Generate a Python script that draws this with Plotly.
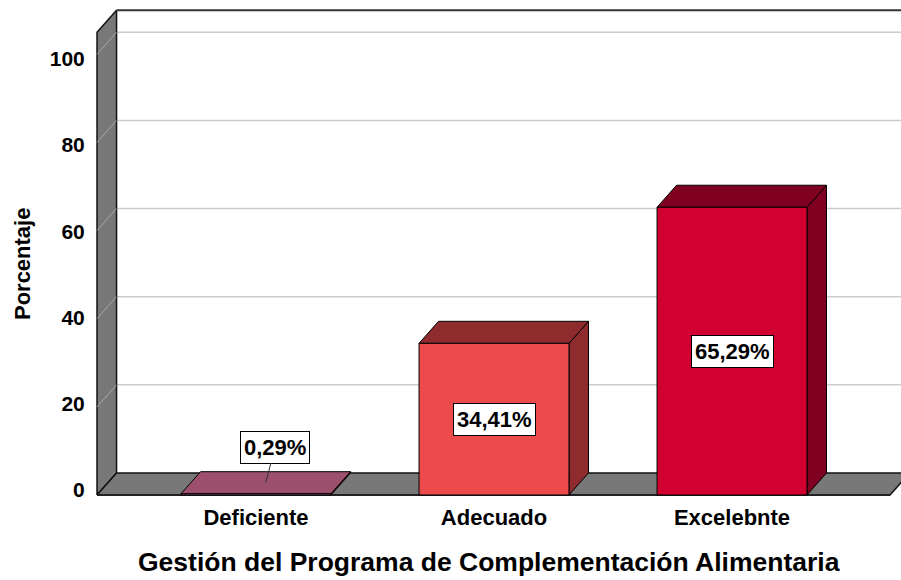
import plotly.graph_objects as go

# ---- data ----
categories = ["Deficiente", "Adecuado", "Excelebnte"]
percentages = [0.29, 34.41, 65.29]
value_labels = ["0,29%", "34,41%", "65,29%"]
y_tick_values = [0, 20, 40, 60, 80, 100]
y_tick_labels = ["0", "20", "40", "60", "80", "100"]
x_title = "Gestión del Programa de Complementación Alimentaria"
y_title = "Porcentaje"

# ---- styles ----
front_colors = ["#B45A7D", "#EC4B4C", "#D20031"]
top_colors = ["#9D4F6E", "#8E2B2D", "#7F0020"]
side_colors = ["#7C3A55", "#8E2B2D", "#7F0020"]
WALL_COLOR = "#787878"
FONT = "Liberation Sans, Arial, sans-serif"

BAR_W = 0.63
DX = 0.082      # depth offset (category units)
DY = 5.0        # depth offset (value units)
X_LEFT = -0.668
X_FLOOR_RIGHT = 2.664
X_MAX = 2.75
WALL_TOP = 105

fig = go.Figure()


def poly(xs, ys, fill, line_color="black", width=1):
    fig.add_trace(go.Scatter(
        x=list(xs) + [xs[0]], y=list(ys) + [ys[0]], mode="lines",
        fill="toself", fillcolor=fill,
        line=dict(color=line_color, width=width),
        hoverinfo="skip", showlegend=False))


def seg(xs, ys, color, width):
    fig.add_trace(go.Scatter(
        x=xs, y=ys, mode="lines", line=dict(color=color, width=width),
        hoverinfo="skip", showlegend=False))


# back-wall gridlines
for v in y_tick_values[1:]:
    seg([X_LEFT + DX, X_MAX], [v + DY, v + DY], "#cccccc", 1.5)

# left wall
poly([X_LEFT, X_LEFT, X_LEFT + DX, X_LEFT + DX],
     [0, WALL_TOP, WALL_TOP + DY, DY], WALL_COLOR, "#111111", 1.5)
# gridlines on left wall
for v in y_tick_values[1:]:
    seg([X_LEFT, X_LEFT + DX], [v, v + DY], "#a8a8a8", 1)
# back wall top edge
seg([X_LEFT + DX, X_MAX], [WALL_TOP + DY, WALL_TOP + DY], "#333333", 2)

# floor
poly([X_LEFT, X_FLOOR_RIGHT, X_FLOOR_RIGHT + DX, X_LEFT + DX],
     [0, 0, DY, DY], WALL_COLOR, "#111111", 1.5)
seg([X_LEFT, X_FLOOR_RIGHT], [0, 0], "#222222", 2)

# bars
for i, v in enumerate(percentages):
    x0, x1 = i - BAR_W / 2, i + BAR_W / 2
    # side face
    poly([x1, x1 + DX, x1 + DX, x1], [0, DY, v + DY, v], side_colors[i])
    # top face
    poly([x0, x1, x1 + DX, x0 + DX], [v, v, v + DY, v + DY], top_colors[i])
    # front face
    poly([x0, x1, x1, x0], [0, 0, v, v], front_colors[i])

# invisible trace for the secondary (label) y-axis
fig.add_trace(go.Scatter(x=[0], y=[0], yaxis="y2", mode="markers",
                         marker=dict(opacity=0), hoverinfo="skip",
                         showlegend=False))

# value labels
for i, (v, lab) in enumerate(zip(percentages, value_labels)):
    common = dict(text=lab, bgcolor="white", bordercolor="black",
                  borderwidth=1, borderpad=3,
                  font=dict(family=FONT, size=22, color="black",
                            weight="bold"))
    if v < 10:
        fig.add_annotation(x=i + DX / 2, y=v + DY / 2, xref="x", yref="y",
                           ax=i + 0.08, ay=v + 10.6, axref="x", ayref="y",
                           showarrow=True, arrowhead=0, arrowwidth=1,
                           arrowcolor="#333333", standoff=0, **common)
    else:
        fig.add_annotation(x=i, y=v / 2, xref="x", yref="y",
                           showarrow=False, **common)

# axis titles (as paper annotations to match their placement)
fig.add_annotation(text=x_title, xref="paper", yref="paper",
                   x=0.4876, y=-0.1324, xanchor="center", yanchor="middle",
                   showarrow=False,
                   font=dict(family=FONT, size=26.5, weight="bold",
                             color="black"))
fig.add_annotation(text=y_title, xref="paper", yref="paper",
                   x=-0.0919, y=0.4745, xanchor="center", yanchor="middle",
                   textangle=-90, showarrow=False,
                   font=dict(family=FONT, size=22, weight="bold",
                             color="black"))

fig.update_layout(
    width=901, height=580,
    margin=dict(l=96, r=0, t=6, b=83, autoexpand=False),
    paper_bgcolor="white", plot_bgcolor="white",
    font=dict(family=FONT, color="black"),
    xaxis=dict(range=[-0.6723, 2.710], tickvals=[0, 1, 2],
               ticktext=categories, showgrid=False, zeroline=False,
               showline=False, ticks="outside", ticklen=1,
               tickcolor="rgba(0,0,0,0)", automargin=False,
               tickfont=dict(family=FONT, size=22, weight="bold")),
    yaxis=dict(range=[-0.454, 110.96], showticklabels=False,
               showgrid=False, zeroline=False, showline=False,
               automargin=False),
    yaxis2=dict(range=[-1.742, 112.31], overlaying="y", side="left",
                anchor="x", tickvals=y_tick_values, ticktext=y_tick_labels,
                showgrid=False, zeroline=False, showline=False,
                ticks="outside", ticklen=6, tickcolor="rgba(0,0,0,0)",
                automargin=False,
                tickfont=dict(family=FONT, size=21, weight="bold")),
)

fig.write_html(
    "out.html",
    config={"displayModeBar": False},
    post_script="document.body.style.margin='0';document.body.style.overflow='hidden';",
)
